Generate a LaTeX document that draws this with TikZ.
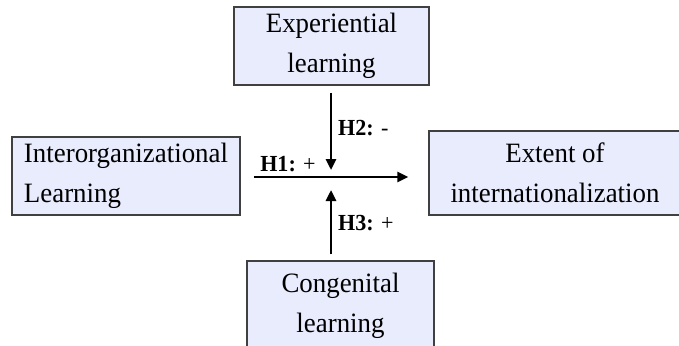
\documentclass[tikz,border=0pt]{standalone}
\usepackage{fontspec}
\setmainfont{Liberation Serif}[FakeStretch=0.96]
\usetikzlibrary{arrows.meta}
\definecolor{boxfill}{HTML}{E8ECFC}
\definecolor{boxline}{HTML}{404040}
\tikzset{
  box/.style={draw=boxline, line width=1.5pt, fill=boxfill, inner sep=0pt,
    font=\fontsize{28}{40}\selectfont},
  arr/.style={line width=2.6pt, -{Triangle[length=11pt,width=10pt]}},
  hlab/.style={font=\fontsize{23}{24}\selectfont, inner sep=0pt}
}
\begin{document}
\begin{tikzpicture}[x=1pt,y=-1pt]
\useasboundingbox (0,0) rectangle (679,345);
\node[box, minimum width=195pt, minimum height=78pt, align=center] (T) at (331.5,46) {Experiential\\learning};
\node[box, minimum width=228pt, minimum height=78pt, align=left] (L) at (126,176) {Interorganizational\\Learning};
\node[box, minimum width=252pt, minimum height=84pt, align=center] (R) at (555,173) {Extent of\\internationalization};
\node[box, minimum width=187pt, minimum height=90pt, align=center] (B) at (340.5,306) {Congenital\\learning};
\coordinate (M) at (331,177);
\draw[arr, shorten <=13pt, shorten >=20pt] (L.east |- M) -- (R.west |- M);
\draw[arr, shorten <=7pt, shorten >=7pt] (T.south -| M) -- (M);
\draw[arr, shorten <=6pt, shorten >=13pt] (B.north -| M) -- (M);
\node[hlab] (h1) at (288,164) {\textbf{H1:} +};
\node[hlab, anchor=west] (h2) at (338,128) {\textbf{H2:} -};
\node[hlab, anchor=west] (h3) at (338,223) {\textbf{H3:} +};
\end{tikzpicture}
\end{document}
